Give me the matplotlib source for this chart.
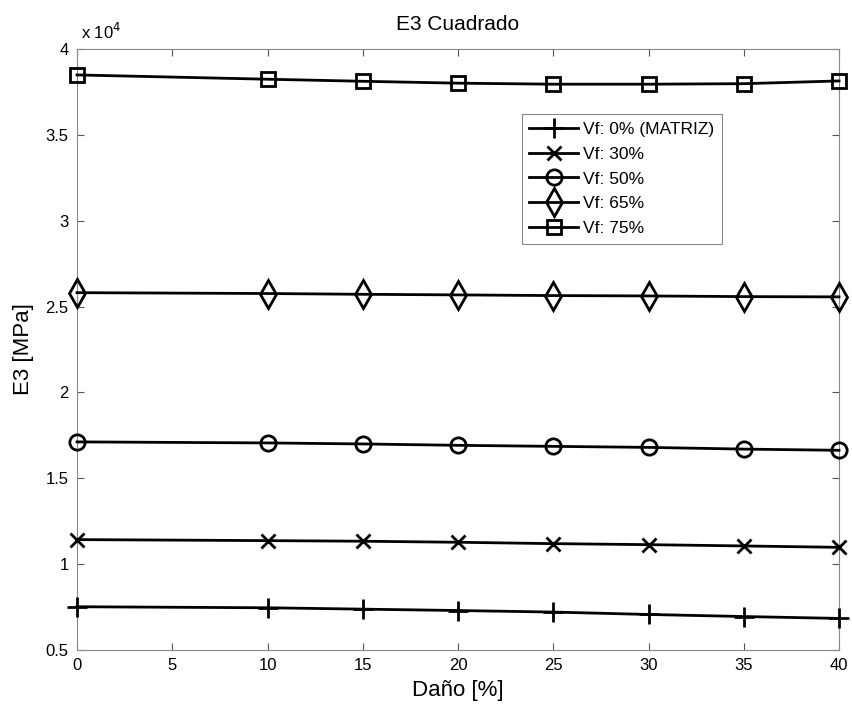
import numpy as np
import matplotlib.pyplot as plt
from matplotlib.ticker import FuncFormatter

plt.rcParams['font.family'] = ['Liberation Sans', 'DejaVu Sans']

dano = [0, 10, 15, 20, 25, 30, 35, 40]

e3_matriz = [7520, 7460, 7380, 7300, 7210, 7070, 6950, 6840]
e3_vf30 = [11430, 11370, 11335, 11275, 11195, 11135, 11060, 10980]
e3_vf50 = [17120, 17060, 17000, 16920, 16860, 16800, 16700, 16630]
e3_vf65 = [25810, 25760, 25715, 25680, 25640, 25620, 25580, 25565]
e3_vf75 = [38490, 38240, 38120, 38010, 37950, 37950, 37980, 38140]

series = [
    (e3_matriz, '+', 'Vf: 0% (MATRIZ)', 15),
    (e3_vf30, 'x', 'Vf: 30%', 10),
    (e3_vf50, 'o', 'Vf: 50%', 11),
    (e3_vf65, 'd', 'Vf: 65%', 14),
    (e3_vf75, 's', 'Vf: 75%', 10.5),
]

fig = plt.figure(figsize=(8.53, 7.06), dpi=100)
ax = fig.add_axes([0.0903, 0.0793, 0.8933, 0.8513])

for vals, mk, lbl, ms in series:
    ax.plot(dano, vals, color='black', linewidth=2, marker=mk, markersize=ms,
            markerfacecolor='none', markeredgecolor='black', markeredgewidth=2,
            label=lbl, clip_on=False, zorder=3)

ax.set_xlim(0, 40)
ax.set_ylim(5000, 40000)
ax.set_xticks(np.arange(0, 41, 5))
ax.set_yticks(np.arange(5000, 40001, 5000))
ax.yaxis.set_major_formatter(FuncFormatter(lambda v, p: '%g' % (v / 1e4)))
ax.tick_params(direction='in', top=True, right=True, length=5, width=0.8,
               labelsize=12, color='#555555', pad=6)
for sp in ax.spines.values():
    sp.set_color('#888888')
    sp.set_linewidth(0.8)

ax.text(0.005, 1.012, r'x 10$^{4}$', transform=ax.transAxes, fontsize=12,
        ha='left', va='bottom')

ax.set_title('E3 Cuadrado', fontsize=15, pad=14)
ax.set_xlabel('Daño [%]', fontsize=16, labelpad=5)
ax.set_ylabel('E3 [MPa]', fontsize=16, labelpad=8)

leg = ax.legend(loc='upper left', bbox_to_anchor=(0.572, 0.906), fontsize=12.5,
                handlelength=2.8, handletextpad=0.3, labelspacing=0.55,
                borderpad=0.45, fancybox=False, framealpha=1)
leg.get_frame().set_edgecolor('#888888')
leg.get_frame().set_linewidth(0.8)

plt.savefig('out.png')
